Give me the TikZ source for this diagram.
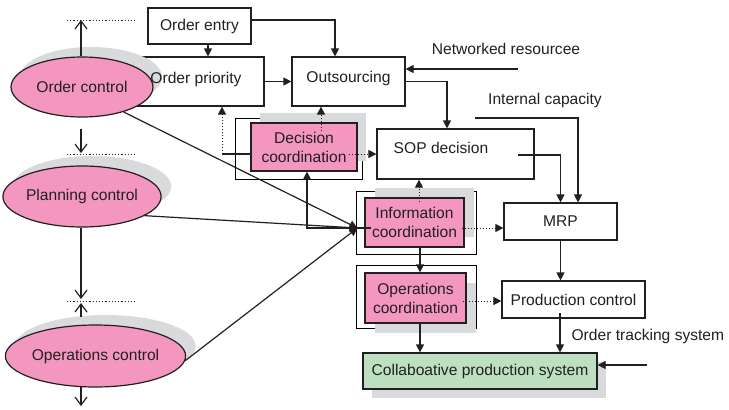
\documentclass[tikz,border=0pt]{standalone}
\usepackage{fontspec}
\setmainfont{Liberation Sans}
\usetikzlibrary{arrows.meta,shadows,backgrounds,shapes.geometric}
\definecolor{ink}{HTML}{231F20}
\definecolor{pinkfill}{HTML}{F397C1}
\definecolor{greenfill}{HTML}{BDE1C0}
\definecolor{shade}{HTML}{D9DADC}

\begin{document}
\begin{tikzpicture}[x=1pt,y=-1pt,line width=1.2pt,color=ink,
  font=\fontsize{15.6}{19}\selectfont,
  box/.style={rectangle,draw=ink,fill=white,inner sep=0pt},
  coord/.style={rectangle,draw=ink,fill=pinkfill,inner sep=0pt,align=center},
  ctrl/.style={ellipse,draw=ink,fill=pinkfill,inner sep=0pt},
  shadeup/.style={drop shadow={shadow xshift=#1,shadow yshift=10pt,fill=shade,opacity=1}},
  shadedown/.style={drop shadow={shadow xshift=#1,shadow yshift=-9pt,fill=shade,opacity=1}},
  lbl/.style={inner sep=0pt},
  arr/.style={-{Triangle[length=8pt,width=8pt]}},
  dotarr/.style={arr,line width=1pt,dash pattern=on 1.2pt off 1.8pt},
  vee/.style={-{Straight Barb[length=8pt,width=12pt]}},
  level/.style={line width=1pt,dash pattern=on 1.2pt off 2pt}]
\useasboundingbox (0,0) rectangle (729,410);

% plain process boxes
\node[box,minimum width=103pt,minimum height=36pt] (oe) at (199.5,26) {Order entry};
\node[box,minimum width=134pt,minimum height=49pt] (op) at (197,81.5) {};
\node[box,minimum width=113pt,minimum height=49pt] (outs) at (348.5,81.5) {};
\node[lbl] (outst) at (348.5,78.5) {Outsourcing};
\node[box,minimum width=157pt,minimum height=50pt] (sop) at (455.5,154) {};
\node[lbl] (sopt) at (441,148) {SOP decision};
\node[box,minimum width=113pt,minimum height=37pt] (mrp) at (560.5,221.5) {MRP};
\node[box,minimum width=143pt,minimum height=37pt] (pc) at (573.5,299.5) {Production control};
\node[box,fill=greenfill,minimum width=234pt,minimum height=36pt,shadedown=9pt] (cps) at (480,371) {Collaboative production system};

% coordination boxes
\node[coord,minimum width=106pt,minimum height=48pt,shadeup=9pt] (dc) at (304,147) {Decision\\coordination};
\node[coord,minimum width=99pt,minimum height=49pt,shadeup=10pt] (ic) at (414.5,222.5) {Information\\coordination};
\node[coord,minimum width=101pt,minimum height=50pt,drop shadow={shadow xshift=10pt,shadow yshift=-10pt,fill=shade,opacity=1}] (oc) at (415.5,298) {Operations\\coordination};

\begin{scope}[on background layer]
  \draw ([shift={(-15pt,-8pt)}]dc.south west) rectangle ([shift={(5pt,4pt)}]dc.north east);
  \draw ([shift={(-8pt,-7pt)}]ic.south west) rectangle ([shift={(12pt,6pt)}]ic.north east);
  \draw ([shift={(-8pt,-5pt)}]oc.south west) rectangle ([shift={(10pt,7pt)}]oc.north east);
\end{scope}

% control levels
\node[ctrl,minimum width=142pt,minimum height=60pt,shadeup=9pt] (ordc) at (82,87) {Order control};
\node[ctrl,minimum width=141pt,minimum height=61pt,shadeup=10pt] (plc) at (82,196.5) {Planning control};
\node[ctrl,minimum width=169pt,minimum height=62pt,shadeup=10pt] (opc) at (95.5,356) {Operations control};

% the priority label sits above the control ellipse's shadow
\node[lbl] (opt) at (196,79) {Order priority};

% level boundaries and vertical arrows
\draw[level] (67,20) -- (137,20);
\draw[level] (67,154) -- (137,154);
\draw[level] (67,301) -- (137,301);
\coordinate (t1) at (81,20);
\coordinate (t2a) at (81,129);
\coordinate (t2b) at (81,153);
\coordinate (t3) at (81,299);
\coordinate (t4a) at (81,317);
\coordinate (t4b) at (81,303);
\coordinate (t5) at (81,406);
\draw[vee] (t1 |- ordc.north) -- (t1);
\draw[vee] (t2a) -- (t2b);
\draw[vee] (t3 |- plc.south) -- (t3);
\draw[vee] (t4a) -- (t4b);
\draw[vee] ([yshift=0.5pt]t5 |- opc.south) -- (t5);

% top flow
\draw[arr] ([yshift=6pt]oe.east) -| ([xshift=-13.5pt]outs.north);
\draw[arr] ([xshift=8.5pt]oe.south) -- ([xshift=8.5pt]oe.south |- op.north);
\draw[arr] (op.east) -- (outs.west);
\coordinate (netsrc) at (518,69);
\draw[arr] (netsrc) -- (netsrc -| outs.east);
\node[lbl] (netl) at (506,49) {Networked resourcee};
\draw[arr] (outs.east) -| ([xshift=-8.5pt]sop.north);
\coordinate (capsrc) at (475,118);
\draw[arr] (capsrc) -| ([xshift=17.5pt]mrp.north);
\node[lbl] (capl) at (545,100) {Internal capacity};
\draw[arr] ([xshift=62.5pt,yshift=-1pt]sop.center) -| (mrp.north);
\draw[arr] (mrp.south) -- (mrp.south |- pc.north);
\coordinate (pcout) at ([xshift=-13.5pt,yshift=-13.5pt]pc.center);
\draw[arr] (pcout) -- (pcout |- cps.north);
\node[lbl,anchor=west] (otl) at (571,336) {Order tracking system};
\coordinate (extsrc) at (647,365);
\draw[arr] (extsrc) -- (extsrc -| cps.east);

% coordination links
\coordinate (hub) at ([xshift=-7pt,yshift=-5.5pt]ic.west);
\draw[arr] ([xshift=5.5pt]ic.south) -- ([xshift=5.5pt]ic.south |- oc.north);
\draw[arr] ([xshift=4.5pt]oc.south) -- ([xshift=4.5pt]oc.south |- cps.north);
\draw[dotarr] ([xshift=-3pt,yshift=-5.5pt]ic.east) -- (mrp.west |- hub);
\coordinate (ocout) at ([xshift=-4pt,yshift=-3pt]oc.east);
\draw[dotarr] (ocout) -- (ocout -| pc.west);
\coordinate (icup) at ([xshift=4.5pt,yshift=-5pt]ic.north);
\draw[dotarr] (icup) -- (icup |- sop.south);
\coordinate (dcup) at ([xshift=17pt,yshift=-9pt]dc.north);
\draw[dotarr] (dcup) -- (dcup |- outs.south);
\coordinate (dcmid) at ([yshift=-7pt]dc.west);
\coordinate (dcout) at ([xshift=-9pt,yshift=-7pt]dc.east);
\draw[dotarr] (dcout) -- (dcout -| sop.west);
\coordinate (j1) at ([xshift=25pt]op.south |- dcmid);
\draw (j1) -- (dcmid);
\draw[dotarr] (j1) -- ([xshift=25pt]op.south);
\draw[arr] ([xshift=14pt]hub) -| ([xshift=3pt]dc.south);

% control levels feed information coordination
\draw[arr] (ordc.-31) -- (hub);
\draw[arr] (plc.-17) -- (hub);
\draw[arr] (opc.-3) -- (hub);
\end{tikzpicture}
\end{document}
